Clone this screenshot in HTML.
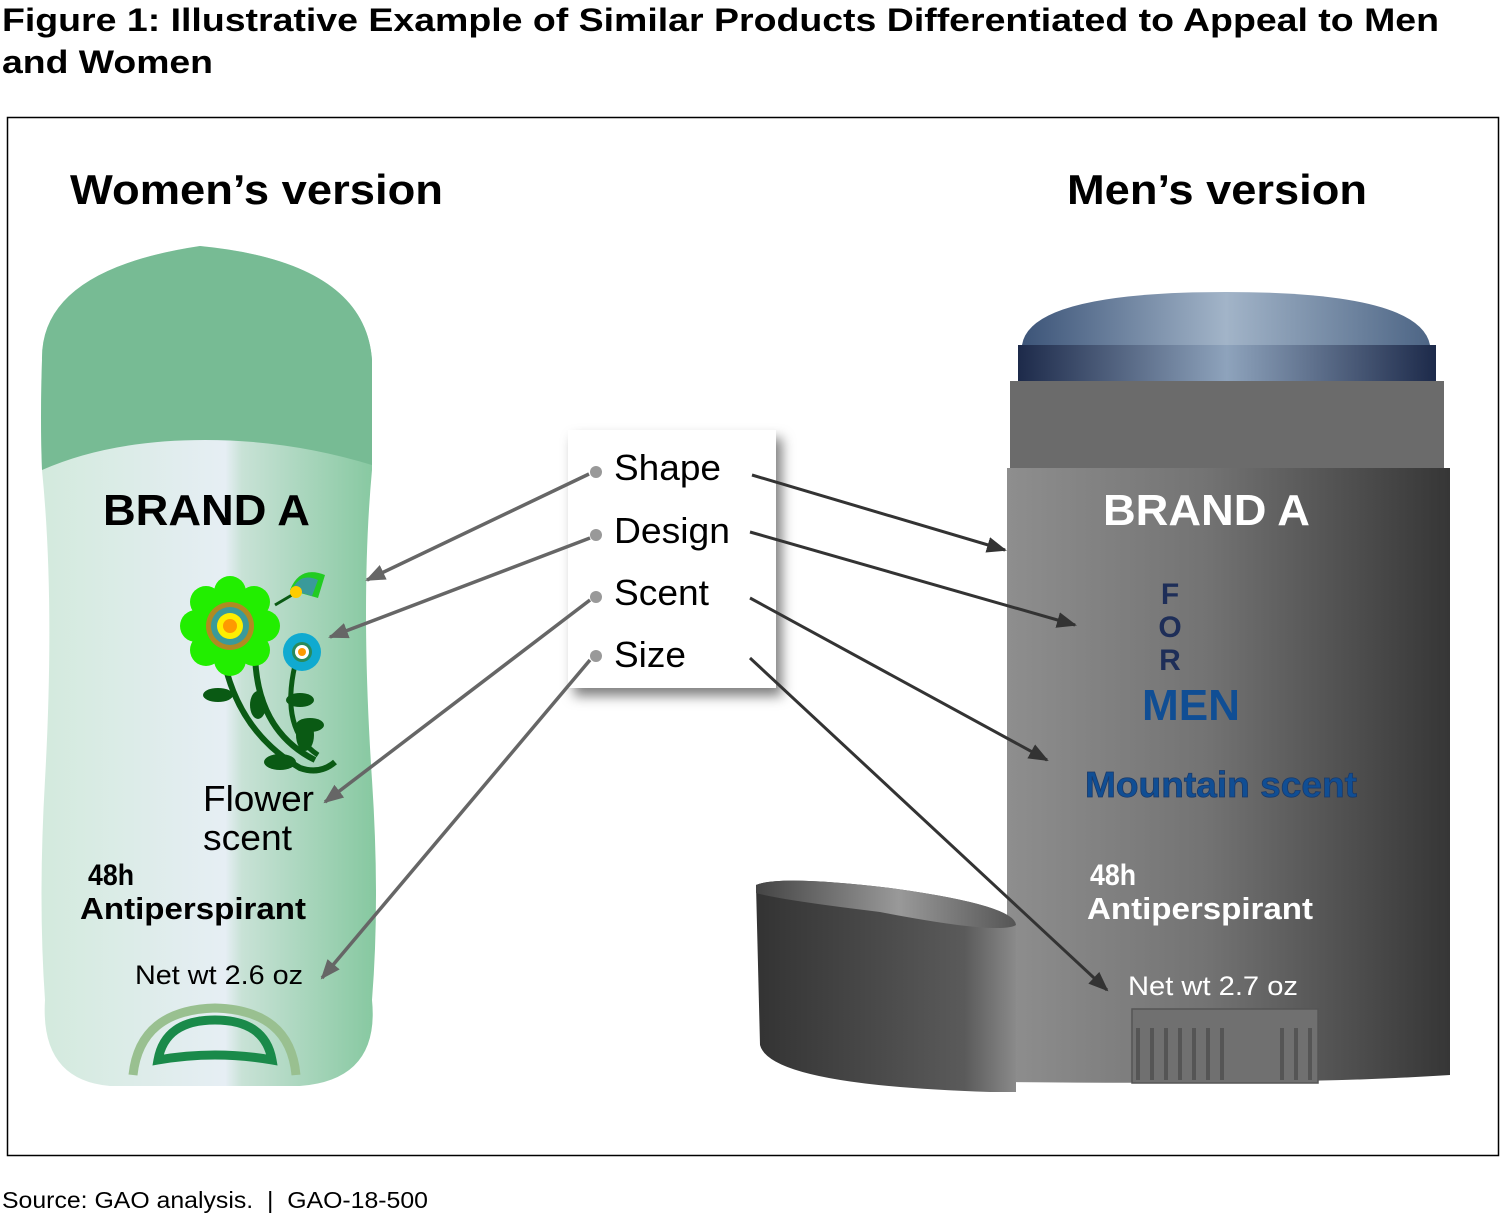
<!DOCTYPE html>
<html><head><meta charset="utf-8"><style>
body{margin:0;background:#fff;}
svg{display:block;font-family:"Liberation Sans",Arial,sans-serif;}
</style></head><body>
<svg width="1505" height="1216" viewBox="0 0 1505 1216">
<defs>
<linearGradient id="wb" x1="0" x2="1" y1="0" y2="0">
<stop offset="0" stop-color="#d3eadd"/><stop offset="0.55" stop-color="#e6eef4"/><stop offset="0.6" stop-color="#c8e2d6"/><stop offset="1" stop-color="#86c8a0"/></linearGradient>
<linearGradient id="mb" x1="0" x2="1"><stop offset="0" stop-color="#8e8e8e"/><stop offset="0.45" stop-color="#737373"/><stop offset="1" stop-color="#363636"/></linearGradient>
<linearGradient id="band" x1="0" x2="1"><stop offset="0" stop-color="#1d2a4a"/><stop offset="0.5" stop-color="#8ea3bc"/><stop offset="1" stop-color="#1d2a4a"/></linearGradient>
<linearGradient id="dome" x1="0" x2="1"><stop offset="0" stop-color="#3c5478"/><stop offset="0.5" stop-color="#a2b4c8"/><stop offset="1" stop-color="#4d6585"/></linearGradient>
<linearGradient id="cap" x1="0" x2="1"><stop offset="0" stop-color="#333"/><stop offset="0.8" stop-color="#5a5a5a"/><stop offset="1" stop-color="#8a8a8a"/></linearGradient>
<linearGradient id="capt" x1="0" x2="1"><stop offset="0" stop-color="#444"/><stop offset="0.55" stop-color="#999"/><stop offset="1" stop-color="#555"/></linearGradient>
<marker id="ad" markerWidth="20" markerHeight="20" refX="18" refY="10" orient="auto" markerUnits="userSpaceOnUse" viewBox="0 0 20 20"><path d="M0,2 L20,10 L0,18z" fill="#333"/></marker>
<marker id="agl" markerWidth="20" markerHeight="20" refX="18" refY="10" orient="auto" markerUnits="userSpaceOnUse" viewBox="0 0 20 20"><path d="M0,2 L20,10 L0,18z" fill="#666"/></marker>
<filter id="sh" x="-20%" y="-20%" width="150%" height="150%"><feDropShadow dx="6" dy="8" stdDeviation="6" flood-color="#000" flood-opacity="0.5"/></filter>
</defs>
<text x="2" y="31" font-size="32" font-weight="bold" textLength="1437" lengthAdjust="spacingAndGlyphs">Figure 1: Illustrative Example of Similar Products Differentiated to Appeal to Men</text>
<text x="2" y="73" font-size="32" font-weight="bold" textLength="211" lengthAdjust="spacingAndGlyphs">and Women</text>
<rect x="7.5" y="117.5" width="1491" height="1038" fill="none" stroke="#000" stroke-width="1.5"/>
<text x="70" y="204" font-size="42" font-weight="bold" textLength="373" lengthAdjust="spacingAndGlyphs">Women’s version</text>
<text x="1067" y="204" font-size="42" font-weight="bold" textLength="300" lengthAdjust="spacingAndGlyphs">Men’s version</text>

<path d="M42,470 Q40,420 42,360 Q40,270 200,246 Q365,262 372,360 Q372,420 372,470 Q360,600 372,780 Q380,900 372,1000 Q380,1080 300,1086 L110,1086 Q40,1080 45,1000 Q38,900 45,780 Q55,600 42,470z" fill="url(#wb)"/>
<path d="M42,470 Q40,420 42,360 Q40,270 200,246 Q365,262 372,360 L372,465 Q290,440 205,440 Q110,440 42,470z" fill="#77bb94"/>
<text x="103" y="525" font-size="44" font-weight="bold" textLength="207" lengthAdjust="spacingAndGlyphs">BRAND A</text>
<g>
<path d="M222,650 Q235,730 300,768 Q320,775 335,762" stroke="#0a5a14" stroke-width="6" fill="none"/>
<path d="M255,650 Q255,730 315,760" stroke="#0a5a14" stroke-width="6" fill="none"/>
<path d="M295,665 Q280,730 318,755" stroke="#0a5a14" stroke-width="5" fill="none"/>
<path d="M275,605 L292,595" stroke="#0a5a14" stroke-width="3"/>
<ellipse cx="218" cy="695" rx="15" ry="7" fill="#0a5a14"/>
<ellipse cx="258" cy="705" rx="8" ry="14" fill="#0a5a14"/>
<ellipse cx="300" cy="700" rx="14" ry="7" fill="#0a5a14"/>
<ellipse cx="310" cy="725" rx="14" ry="7" fill="#0a5a14"/>
<ellipse cx="305" cy="735" rx="9" ry="16" fill="#0a5a14"/>
<ellipse cx="280" cy="762" rx="16" ry="8" fill="#0a5a14"/>
<g fill="#22ee00">
<circle cx="230" cy="626" r="36"/>
<circle cx="230" cy="592" r="16"/><circle cx="230" cy="660" r="16"/><circle cx="196" cy="626" r="16"/><circle cx="264" cy="626" r="16"/>
<circle cx="206" cy="602" r="16"/><circle cx="254" cy="602" r="16"/><circle cx="206" cy="650" r="16"/><circle cx="254" cy="650" r="16"/>
</g>
<circle cx="230" cy="626" r="24" fill="#b08a22"/><circle cx="230" cy="626" r="19" fill="#3a9a9a"/><circle cx="230" cy="626" r="13" fill="#ffee00"/><circle cx="230" cy="626" r="7" fill="#ff9900"/>
<circle cx="302" cy="652" r="19" fill="#10aad0"/><circle cx="302" cy="652" r="10" fill="#2a8a5a"/><circle cx="302" cy="652" r="7" fill="#fff"/><circle cx="302" cy="652" r="4" fill="#ff9900"/>
<path d="M290,590 Q300,565 325,575 L318,598z" fill="#22cc22"/><path d="M292,590 Q300,572 318,580 L312,596z" fill="#3a9a9a"/>
<circle cx="296" cy="592" r="6" fill="#ffcc00"/>
</g>
<text x="203" y="811" font-size="36" textLength="111" lengthAdjust="spacingAndGlyphs">Flower</text>
<text x="203" y="850" font-size="36" textLength="89" lengthAdjust="spacingAndGlyphs">scent</text>
<text x="88" y="885" font-size="30" font-weight="bold" textLength="46" lengthAdjust="spacingAndGlyphs">48h</text>
<text x="80" y="919" font-size="31" font-weight="bold" textLength="226" lengthAdjust="spacingAndGlyphs">Antiperspirant</text>
<text x="135" y="984" font-size="27" textLength="168" lengthAdjust="spacingAndGlyphs">Net wt 2.6 oz</text>
<path d="M133,1075 Q140,1010 215,1008 Q290,1010 296,1075" fill="none" stroke="#99c090" stroke-width="9"/>
<path d="M158,1060 Q165,1020 215,1020 Q265,1020 272,1060 Q215,1050 158,1060z" fill="none" stroke="#1a8a4a" stroke-width="9"/>

<path d="M1022,345 Q1030,292 1226,292 Q1420,292 1430,345z" fill="url(#dome)"/>
<rect x="1018" y="345" width="418" height="36" fill="url(#band)"/>
<rect x="1010" y="381" width="434" height="87" fill="#6b6b6b"/>
<path d="M1007,468 L1450,468 L1450,1075 Q1300,1085 1007,1082z" fill="url(#mb)"/>
<text x="1103" y="525" font-size="44" font-weight="bold" fill="#fff" textLength="207" lengthAdjust="spacingAndGlyphs">BRAND A</text>
<g font-size="30" font-weight="bold" fill="#1e2e58" text-anchor="middle">
<text x="1170" y="604">F</text><text x="1170" y="637">O</text><text x="1170" y="670">R</text></g>
<text x="1142" y="720" font-size="44" font-weight="bold" fill="#104e94" textLength="98" lengthAdjust="spacingAndGlyphs">MEN</text>
<text x="1085" y="797" font-size="36" font-weight="bold" fill="#104e94" stroke="#1a3a6a" stroke-width="0.8" textLength="272" lengthAdjust="spacingAndGlyphs">Mountain scent</text>
<text x="1090" y="885" font-size="30" font-weight="bold" fill="#fff" textLength="46" lengthAdjust="spacingAndGlyphs">48h</text>
<text x="1087" y="919" font-size="31" font-weight="bold" fill="#fff" textLength="226" lengthAdjust="spacingAndGlyphs">Antiperspirant</text>
<text x="1128" y="995" font-size="27" fill="#fff" textLength="170" lengthAdjust="spacingAndGlyphs">Net wt 2.7 oz</text>
<rect x="1132" y="1009" width="186" height="74" fill="#707070" stroke="#555" stroke-width="1.5"/>
<g stroke="#555" stroke-width="4"><line x1="1138" y1="1028" x2="1138" y2="1080"/><line x1="1152" y1="1028" x2="1152" y2="1080"/><line x1="1166" y1="1028" x2="1166" y2="1080"/><line x1="1180" y1="1028" x2="1180" y2="1080"/><line x1="1194" y1="1028" x2="1194" y2="1080"/><line x1="1208" y1="1028" x2="1208" y2="1080"/><line x1="1222" y1="1028" x2="1222" y2="1080"/><line x1="1282" y1="1028" x2="1282" y2="1080"/><line x1="1296" y1="1028" x2="1296" y2="1080"/><line x1="1310" y1="1028" x2="1310" y2="1080"/></g>
<path d="M756,885 L760,1045 Q770,1085 990,1092 L1016,1092 L1016,925 Q1015,905 890,888 Q780,875 756,885z" fill="url(#cap)"/>
<path d="M756,885 Q780,875 890,888 Q1015,905 1016,925 Q1000,935 880,912 Q780,900 756,893z" fill="url(#capt)"/>

<rect x="568" y="430" width="208" height="258" fill="#fff" filter="url(#sh)"/>
<g font-size="36"><text x="614" y="480" textLength="107" lengthAdjust="spacingAndGlyphs">Shape</text><text x="614" y="543" textLength="116" lengthAdjust="spacingAndGlyphs">Design</text><text x="614" y="605" textLength="95" lengthAdjust="spacingAndGlyphs">Scent</text><text x="614" y="667" textLength="72" lengthAdjust="spacingAndGlyphs">Size</text></g>
<g fill="#999"><circle cx="596" cy="472" r="6"/><circle cx="596" cy="535" r="6"/><circle cx="596" cy="597" r="6"/><circle cx="596" cy="656" r="6"/></g>
<g stroke="#666" stroke-width="3.5" fill="none" marker-end="url(#agl)">
<line x1="589" y1="474" x2="367" y2="580"/>
<line x1="590" y1="538" x2="330" y2="637"/>
<line x1="590" y1="600" x2="325" y2="802"/>
<line x1="590" y1="660" x2="322" y2="978"/>
</g>
<g stroke="#333" stroke-width="3" fill="none" marker-end="url(#ad)">
<line x1="752" y1="475" x2="1005" y2="550"/>
<line x1="750" y1="532" x2="1075" y2="625"/>
<line x1="750" y1="598" x2="1047" y2="760"/>
<line x1="750" y1="658" x2="1107" y2="990"/>
</g>
<text x="2" y="1208" font-size="23" textLength="426" lengthAdjust="spacingAndGlyphs" xml:space="preserve">Source: GAO analysis.  |  GAO-18-500</text>
</svg>
</body></html>
